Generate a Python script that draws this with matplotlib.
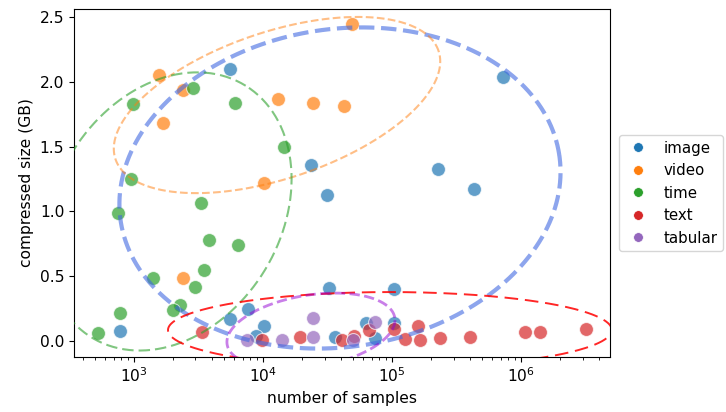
import numpy as np
import matplotlib
matplotlib.use("Agg")
import matplotlib.pyplot as plt
from matplotlib.lines import Line2D

plt.rcParams["font.size"] = 11.2

categories = ["image", "video", "time", "text", "tabular"]
colors = ["#1f77b4", "#ff7f0e", "#2ca02c", "#d62728", "#9467bd"]

image_x = [5550, 23500, 31300, 725000, 227000, 432000, 32500, 104000, 778, 7650,
           5550, 10200, 36100, 8830, 62800, 73800, 104000]
image_y = [2.10, 1.36, 1.13, 2.04, 1.33, 1.17, 0.41, 0.40, 0.08, 0.25,
           0.17, 0.12, 0.03, 0.04, 0.14, 0.02, 0.14]

video_x = [49000, 1560, 2400, 1680, 13060, 24400, 42500, 10200, 2400]
video_y = [2.45, 2.05, 1.94, 1.68, 1.87, 1.84, 1.81, 1.22, 0.49]

time_x = [2860, 980, 6050, 14500, 950, 752, 3300, 3800, 6400, 1400, 3490, 2950,
          2280, 2000, 778, 525]
time_y = [1.95, 1.83, 1.84, 1.50, 1.25, 0.99, 1.065, 0.78, 0.74, 0.49, 0.55, 0.42,
          0.28, 0.24, 0.22, 0.06]

text_x = [3360, 9780, 19400, 40800, 50700, 66400, 104000, 159000, 126000, 165000,
          235000, 403000, 1070000, 1400000, 3190000]
text_y = [0.07, 0.01, 0.03, 0.01, 0.04, 0.085, 0.095, 0.12, 0.015, 0.01,
          0.02, 0.03, 0.07, 0.07, 0.09]

tabular_x = [7520, 14000, 24400, 24400, 49900, 73800]
tabular_y = [0.01, 0.01, 0.18, 0.03, 0.01, 0.15]

# ellipse params: center log10(x), center y, semi-axis (decades), semi-axis (GB), angle deg
ell_center_u = [4.597, 4.109, 3.267, 4.984, 4.372]
ell_center_y = [1.181, 1.821, 1.000, 0.085, 0.077]
ell_a = [1.719, 1.32, 1.14, 1.72, 0.658]
ell_b = [1.226, 0.566, 0.874, 0.293, 0.278]
ell_angle = [8.5, 18.4, 58.3, 0.0, 9.0]
ell_colors = ["royalblue", "#ff7f0e", "#2ca02c", "red", "darkviolet"]
ell_alpha = [0.6, 0.5, 0.6, 0.85, 0.5]
ell_lw = [3.0, 1.5, 1.5, 1.4, 2.0]
ell_ls = ["--", "--", (0, (5.5, 2.4)), (0, (7, 3.5)), "--"]

xs = [image_x, video_x, time_x, text_x, tabular_x]
ys = [image_y, video_y, time_y, text_y, tabular_y]

fig = plt.figure(figsize=(7.26, 4.12), dpi=100)
ax = fig.add_axes([74 / 726, 1 - 357 / 412, (610 - 74) / 726, (357 - 9) / 412])

for xv, yv, c in zip(xs, ys, colors):
    ax.scatter(xv, yv, s=100, color=c, alpha=0.7, edgecolor="white", linewidth=0.75, zorder=2)

t = np.linspace(0, 2 * np.pi, 400)
for cu, cy, a, b, ang, c, al, lw, ls in zip(ell_center_u, ell_center_y, ell_a, ell_b,
                                             ell_angle, ell_colors, ell_alpha, ell_lw, ell_ls):
    th = np.deg2rad(ang)
    du = a * np.cos(t) * np.cos(th) - b * np.sin(t) * np.sin(th)
    dy = a * np.cos(t) * np.sin(th) + b * np.sin(t) * np.cos(th)
    ax.plot(10 ** (cu + du), cy + dy, color=c, alpha=al, lw=lw, ls=ls, zorder=3)

ax.set_xscale("log")
ax.set_xlim(343, 4.9e6)
ax.set_ylim(-0.123, 2.562)
ax.set_yticks([0.0, 0.5, 1.0, 1.5, 2.0, 2.5])
ax.set_xlabel("number of samples")
ax.set_ylabel("compressed size (GB)")

handles = [Line2D([0], [0], marker="o", ls="", color=c, markersize=7,
                  markeredgecolor="white", markeredgewidth=0.5) for c in colors]
ax.legend(handles, categories, loc="center left", bbox_to_anchor=(1.0, 0.471),
          frameon=True, borderaxespad=0.6, handletextpad=0.8, fontsize=10.8,
          borderpad=0.35, handlelength=1.8)

fig.savefig("out.png", dpi=100)
